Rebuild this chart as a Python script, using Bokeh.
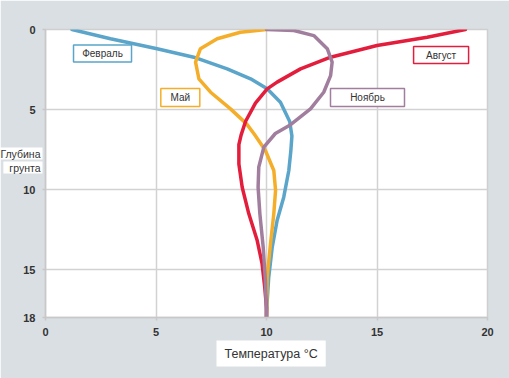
from bokeh.plotting import figure
from bokeh.models import Range1d, FixedTicker, Title, Label
from bokeh.core.properties import value
from bokeh.embed import file_html
from bokeh.resources import INLINE

# Depth profiles (temperature °C, depth m)
feb_t = [1.2, 2.94, 5.05, 6.71, 8.22, 9.28, 10.03, 10.63, 11.05, 11.15, 11.1, 11.01, 10.78, 10.48, 10.26, 10.1, 10.03, 10.0]
feb_d = [0.0, 0.58, 1.2, 1.73, 2.46, 3.08, 3.71, 4.54, 5.75, 6.65, 7.6, 8.81, 10.48, 11.94, 13.6, 15.5, 17.0, 18.0]

may_t = [10.0, 8.82, 7.77, 7.01, 6.79, 6.94, 7.47, 8.37, 9.1, 9.45, 9.95, 10.33, 10.41, 10.33, 10.18, 10.03, 10.0]
may_d = [0.0, 0.17, 0.58, 1.2, 2.04, 3.08, 3.92, 4.96, 5.9, 6.55, 7.56, 8.81, 10.06, 11.52, 13.4, 15.48, 18.0]

aug_t = [19.0, 17.27, 15.0, 12.9, 11.54, 10.48, 10.03, 9.5, 9.05, 8.85, 8.75, 8.75, 8.9, 9.2, 9.58, 9.8, 9.92, 10.0, 10.0]
aug_d = [0.0, 0.48, 1.0, 1.73, 2.46, 3.29, 3.71, 4.6, 5.75, 6.6, 7.2, 8.4, 9.86, 11.52, 13.19, 14.64, 16.1, 17.4, 18.0]

nov_t = [10.0, 11.24, 12.14, 12.75, 12.97, 12.9, 12.59, 11.99, 11.09, 10.4, 9.88, 9.65, 9.62, 9.7, 9.85, 9.95, 10.0]
nov_d = [0.0, 0.06, 0.38, 1.2, 2.04, 2.88, 3.92, 4.96, 5.95, 6.5, 7.35, 8.6, 9.86, 11.52, 13.6, 15.7, 18.0]

series_names = ["Февраль", "Май", "Август", "Ноябрь"]
series_colors = ["#5aa5c9", "#f4ae2a", "#e31d3c", "#a17e9d"]

x_ticks = [0, 5, 10, 15, 20]
y_ticks = [0, 5, 10, 15, 18]

BG = "#dadfe3"

p = figure(width=509, height=378, output_backend="svg", toolbar_location=None,
           x_range=Range1d(0, 20), y_range=Range1d(18, 0),
           min_border_left=45, min_border_right=22, min_border_top=29, min_border_bottom=61)
p.background_fill_color = "white"
p.border_fill_color = BG
p.outline_line_color = "#cfcfcf"
p.outline_line_width = 1.5

for ax in (p.xaxis[0], p.yaxis[0]):
    ax.major_label_text_font = "Liberation Sans"
    ax.major_label_text_font_style = "bold"
    ax.major_label_text_font_size = "11px"
    ax.major_label_text_color = "#333333"
    ax.axis_line_color = "#c8c8c8"
    ax.axis_line_width = 1.5
    ax.major_tick_line_color = "#c8c8c8"
    ax.major_tick_line_width = 1.5
    ax.minor_tick_line_color = None
    ax.major_tick_in = 0
    ax.major_tick_out = 3
p.xaxis.ticker = FixedTicker(ticks=x_ticks)
p.yaxis.ticker = FixedTicker(ticks=y_ticks)
p.xaxis.major_label_standoff = 7
p.yaxis.major_label_standoff = 7

p.grid.grid_line_color = "#d2d2d2"
p.grid.grid_line_width = 1.5

curves = [(feb_t, feb_d), (may_t, may_d), (aug_t, aug_d), (nov_t, nov_d)]
for (t, d), c in zip(curves, series_colors):
    p.line(t, d, line_color=c, line_width=3.5, line_join="round", line_cap="round")

# label boxes
lab_x = [2.58, 6.1, 17.9, 14.57]
lab_y = [1.5, 4.25, 1.6, 4.25]
lab_w = [58, 39, 55, 74]
lab_h = [17, 18, 17, 18]
for name, c, x, y, w, h in zip(series_names, series_colors, lab_x, lab_y, lab_w, lab_h):
    p.rect(x=[x], y=[y], width=w, height=h, width_units="screen", height_units="screen",
           fill_color="white", line_color=c, line_width=1.5)
    p.text(x=[x], y=[y], text=[name], text_align="center", text_baseline="middle",
           text_font=value("Liberation Sans"), text_font_size="10px", text_color="#333333")

# axis titles
p.add_layout(Title(text="Температура °C", align="left", text_font="Liberation Sans",
                   text_font_size="12.5px", text_font_style="normal", text_color="#333333",
                   background_fill_color="white", padding=(8, 6), offset=171,
                   standoff=0), "below")
y_title_lines = ["Глубина", "грунта"]
for txt, sy in zip(y_title_lines, [153, 167]):
    p.add_layout(Label(x=42, y=sy, x_units="canvas", y_units="canvas",
                       text=txt, text_align="right", text_baseline="middle",
                       text_font="Liberation Sans", text_font_size="10.5px", text_color="#333333",
                       background_fill_color="white", padding=(6, 2, 0, 0)), "above")

open("out.html", "w").write(file_html(p, INLINE))
